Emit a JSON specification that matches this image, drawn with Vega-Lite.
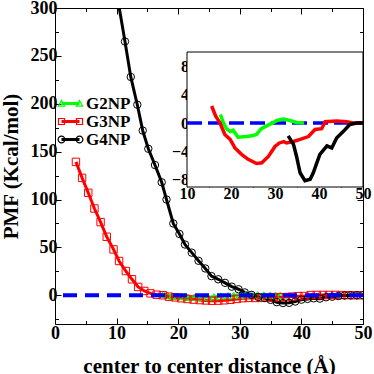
{
  "$schema": "https://vega.github.io/schema/vega-lite/v6.json",
  "width": 308,
  "height": 316,
  "autosize": "none",
  "padding": {"left": 55, "top": 8, "right": 11, "bottom": 50},
  "background": "white",
  "config": {
    "view": {"stroke": "black", "strokeWidth": 1},
    "axis": {
      "labelFont": "Liberation Serif", "labelFontWeight": "bold", "labelColor": "black",
      "titleFont": "Liberation Serif", "titleFontWeight": "bold", "titleColor": "black",
      "tickColor": "black", "domain": false, "grid": false, "labelFlush": false, "labelOverlap": false
    }
  },
  "datasets": {
    "main": [
      {"series": "G2NP", "x": 17.6, "y": 1.2}, {"series": "G2NP", "x": 18.3, "y": 0.0}, {"series": "G2NP", "x": 19.0, "y": -0.8},
      {"series": "G2NP", "x": 19.8, "y": -1.2}, {"series": "G2NP", "x": 20.5, "y": -1.0}, {"series": "G2NP", "x": 21.1, "y": -1.5},
      {"series": "G2NP", "x": 21.6, "y": -2.0}, {"series": "G2NP", "x": 22.6, "y": -2.0}, {"series": "G2NP", "x": 23.6, "y": -1.9},
      {"series": "G2NP", "x": 24.8, "y": -1.8}, {"series": "G2NP", "x": 25.8, "y": -1.6}, {"series": "G2NP", "x": 26.9, "y": -0.8},
      {"series": "G2NP", "x": 28.1, "y": -0.4}, {"series": "G2NP", "x": 29.0, "y": -0.1}, {"series": "G2NP", "x": 30.0, "y": 0.2},
      {"series": "G2NP", "x": 30.9, "y": 0.4}, {"series": "G2NP", "x": 31.9, "y": 0.55}, {"series": "G2NP", "x": 32.9, "y": 0.45},
      {"series": "G2NP", "x": 33.9, "y": 0.3}, {"series": "G2NP", "x": 34.9, "y": 0.1}, {"series": "G2NP", "x": 35.8, "y": 0.05},
      {"series": "G2NP", "x": 36.6, "y": 0.0},
      {"series": "G3NP", "x": 3.4, "y": 139.3}, {"series": "G3NP", "x": 4.4, "y": 122.6}, {"series": "G3NP", "x": 5.4, "y": 107},
      {"series": "G3NP", "x": 6.4, "y": 90.6}, {"series": "G3NP", "x": 7.4, "y": 76.4}, {"series": "G3NP", "x": 8.4, "y": 61.1},
      {"series": "G3NP", "x": 9.5, "y": 47.9}, {"series": "G3NP", "x": 10.4, "y": 35.8}, {"series": "G3NP", "x": 11.5, "y": 25.3},
      {"series": "G3NP", "x": 12.5, "y": 16.7}, {"series": "G3NP", "x": 13.5, "y": 8.7}, {"series": "G3NP", "x": 14.5, "y": 4.5},
      {"series": "G3NP", "x": 15.5, "y": 2.0}, {"series": "G3NP", "x": 16.5, "y": 0.6}, {"series": "G3NP", "x": 17.5, "y": 0},
      {"series": "G3NP", "x": 18.5, "y": -1.5}, {"series": "G3NP", "x": 19.5, "y": -2.2}, {"series": "G3NP", "x": 20.5, "y": -3.1},
      {"series": "G3NP", "x": 21.5, "y": -3.9}, {"series": "G3NP", "x": 22.5, "y": -4.5}, {"series": "G3NP", "x": 23.5, "y": -5.0},
      {"series": "G3NP", "x": 24.5, "y": -5.4}, {"series": "G3NP", "x": 25.5, "y": -5.7}, {"series": "G3NP", "x": 26.5, "y": -5.6},
      {"series": "G3NP", "x": 27.5, "y": -5.2}, {"series": "G3NP", "x": 28.5, "y": -4.7}, {"series": "G3NP", "x": 29.5, "y": -3.8},
      {"series": "G3NP", "x": 30.5, "y": -3.0}, {"series": "G3NP", "x": 31.5, "y": -2.7}, {"series": "G3NP", "x": 32.5, "y": -2.8},
      {"series": "G3NP", "x": 33.5, "y": -2.7}, {"series": "G3NP", "x": 34.5, "y": -2.5}, {"series": "G3NP", "x": 35.5, "y": -2.3},
      {"series": "G3NP", "x": 36.5, "y": -2.1}, {"series": "G3NP", "x": 37.5, "y": -1.9}, {"series": "G3NP", "x": 38.5, "y": -1.4},
      {"series": "G3NP", "x": 39.5, "y": -0.9}, {"series": "G3NP", "x": 40.5, "y": -0.8}, {"series": "G3NP", "x": 41.5, "y": 0.2},
      {"series": "G3NP", "x": 42.5, "y": 0.3}, {"series": "G3NP", "x": 43.5, "y": 0.3}, {"series": "G3NP", "x": 44.5, "y": 0.3},
      {"series": "G3NP", "x": 45.5, "y": 0.3}, {"series": "G3NP", "x": 46.5, "y": 0.2}, {"series": "G3NP", "x": 47.5, "y": 0.1},
      {"series": "G3NP", "x": 48.5, "y": 0}, {"series": "G3NP", "x": 49.5, "y": 0},
      {"series": "G4NP", "x": 10.3, "y": 305}, {"series": "G4NP", "x": 11.36, "y": 265}, {"series": "G4NP", "x": 12.3, "y": 228},
      {"series": "G4NP", "x": 13.36, "y": 199}, {"series": "G4NP", "x": 14.24, "y": 172}, {"series": "G4NP", "x": 15.15, "y": 153},
      {"series": "G4NP", "x": 16.23, "y": 136}, {"series": "G4NP", "x": 17.32, "y": 118}, {"series": "G4NP", "x": 18.1, "y": 100},
      {"series": "G4NP", "x": 19.2, "y": 75}, {"series": "G4NP", "x": 20.2, "y": 64}, {"series": "G4NP", "x": 21.1, "y": 53},
      {"series": "G4NP", "x": 22.2, "y": 44.5}, {"series": "G4NP", "x": 23.3, "y": 36}, {"series": "G4NP", "x": 24.4, "y": 28},
      {"series": "G4NP", "x": 25.4, "y": 20}, {"series": "G4NP", "x": 26.5, "y": 16.7}, {"series": "G4NP", "x": 27.6, "y": 13},
      {"series": "G4NP", "x": 28.7, "y": 9}, {"series": "G4NP", "x": 29.8, "y": 6.3}, {"series": "G4NP", "x": 30.8, "y": 3},
      {"series": "G4NP", "x": 31.9, "y": 0.5}, {"series": "G4NP", "x": 33.0, "y": -1.8}, {"series": "G4NP", "x": 34.0, "y": -2.8},
      {"series": "G4NP", "x": 35.0, "y": -4.8}, {"series": "G4NP", "x": 36.0, "y": -7.2}, {"series": "G4NP", "x": 37.0, "y": -8.1},
      {"series": "G4NP", "x": 38.0, "y": -7.9}, {"series": "G4NP", "x": 39.0, "y": -6.5}, {"series": "G4NP", "x": 40.0, "y": -4.6},
      {"series": "G4NP", "x": 41.0, "y": -3.8}, {"series": "G4NP", "x": 42.0, "y": -3.2}, {"series": "G4NP", "x": 43.0, "y": -3.5},
      {"series": "G4NP", "x": 44.0, "y": -2.1}, {"series": "G4NP", "x": 45.0, "y": -1.5}, {"series": "G4NP", "x": 46.0, "y": -0.8},
      {"series": "G4NP", "x": 47.0, "y": -0.2}, {"series": "G4NP", "x": 48.0, "y": 0}, {"series": "G4NP", "x": 49.0, "y": 0},
      {"series": "G4NP", "x": 50.0, "y": 0}
    ],
    "inset": [
      {"series": "G2NP", "x": 17.6, "y": 1.2}, {"series": "G2NP", "x": 18.3, "y": 0.0}, {"series": "G2NP", "x": 19.0, "y": -0.8},
      {"series": "G2NP", "x": 19.8, "y": -1.2}, {"series": "G2NP", "x": 20.5, "y": -1.0}, {"series": "G2NP", "x": 21.6, "y": -2.0},
      {"series": "G2NP", "x": 23.6, "y": -1.9}, {"series": "G2NP", "x": 24.8, "y": -1.8}, {"series": "G2NP", "x": 25.8, "y": -1.6},
      {"series": "G2NP", "x": 26.9, "y": -0.8}, {"series": "G2NP", "x": 28.1, "y": -0.4}, {"series": "G2NP", "x": 30.0, "y": 0.2},
      {"series": "G2NP", "x": 30.4, "y": 0.36}, {"series": "G2NP", "x": 31.9, "y": 0.55}, {"series": "G2NP", "x": 33.4, "y": 0.36},
      {"series": "G2NP", "x": 34.9, "y": 0.09}, {"series": "G2NP", "x": 36.6, "y": 0.0},
      {"series": "G3NP", "x": 15.6, "y": 2.4}, {"series": "G3NP", "x": 16.5, "y": 1.0}, {"series": "G3NP", "x": 17.5, "y": 0},
      {"series": "G3NP", "x": 18.6, "y": -1.6}, {"series": "G3NP", "x": 19.8, "y": -2.3}, {"series": "G3NP", "x": 20.9, "y": -3.5},
      {"series": "G3NP", "x": 22.4, "y": -4.4}, {"series": "G3NP", "x": 23.9, "y": -5.1}, {"series": "G3NP", "x": 25.8, "y": -5.7},
      {"series": "G3NP", "x": 27.0, "y": -5.6}, {"series": "G3NP", "x": 28.5, "y": -4.7}, {"series": "G3NP", "x": 30.0, "y": -3.3},
      {"series": "G3NP", "x": 31.0, "y": -2.8}, {"series": "G3NP", "x": 32.0, "y": -2.6}, {"series": "G3NP", "x": 32.6, "y": -2.8},
      {"series": "G3NP", "x": 34.2, "y": -2.6}, {"series": "G3NP", "x": 35.7, "y": -2.3}, {"series": "G3NP", "x": 37.6, "y": -1.9},
      {"series": "G3NP", "x": 39.1, "y": -0.9}, {"series": "G3NP", "x": 40.6, "y": -0.8}, {"series": "G3NP", "x": 41.4, "y": 0.2},
      {"series": "G3NP", "x": 44.0, "y": 0.3}, {"series": "G3NP", "x": 46.3, "y": 0.2}, {"series": "G3NP", "x": 47.8, "y": 0},
      {"series": "G3NP", "x": 50.0, "y": 0},
      {"series": "G4NP", "x": 33.0, "y": -1.8}, {"series": "G4NP", "x": 34.2, "y": -3.0}, {"series": "G4NP", "x": 34.9, "y": -4.7},
      {"series": "G4NP", "x": 35.7, "y": -7.0}, {"series": "G4NP", "x": 36.8, "y": -8.1}, {"series": "G4NP", "x": 38.0, "y": -7.9},
      {"series": "G4NP", "x": 38.7, "y": -7.0}, {"series": "G4NP", "x": 39.5, "y": -5.6}, {"series": "G4NP", "x": 40.2, "y": -4.4},
      {"series": "G4NP", "x": 41.8, "y": -3.2}, {"series": "G4NP", "x": 42.9, "y": -3.5}, {"series": "G4NP", "x": 44.0, "y": -2.1},
      {"series": "G4NP", "x": 45.5, "y": -1.2}, {"series": "G4NP", "x": 47.0, "y": -0.2}, {"series": "G4NP", "x": 48.6, "y": 0},
      {"series": "G4NP", "x": 50.0, "y": 0}
    ]
  },
  "layer": [
    {
      "layer": [
        {
          "data": {"name": "main"},
          "mark": {"type": "line", "strokeWidth": 3, "clip": true},
          "encoding": {
            "x": {"field": "x", "type": "quantitative",
              "scale": {"domain": [0, 50], "nice": false, "zero": false},
              "axis": {"orient": "bottom", "values": [0, 5, 10, 15, 20, 25, 30, 35, 40, 45, 50],
                "labelExpr": "datum.value % 10 === 0 ? datum.label : ''",
                "tickSize": {"condition": {"test": "datum.value % 10 !== 0", "value": -3.5}, "value": -6},
                "labelFontSize": 18, "labelPadding": 6,
                "title": "center to center distance (Å)", "titleFontSize": 21, "titlePadding": 11}},
            "y": {"field": "y", "type": "quantitative",
              "scale": {"domain": [-30, 300], "nice": false, "zero": false},
              "axis": {"orient": "left", "values": [-25, 0, 25, 50, 75, 100, 125, 150, 175, 200, 225, 250, 275, 300],
                "labelExpr": "datum.value % 50 === 0 ? datum.label : ''",
                "tickSize": {"condition": {"test": "datum.value % 50 !== 0", "value": -3.5}, "value": -6},
                "labelFontSize": 18, "labelPadding": 4,
                "title": "PMF (Kcal/mol)", "titleFontSize": 21, "titlePadding": 9}},
            "color": {"field": "series", "type": "nominal", "legend": null,
              "scale": {"domain": ["G2NP", "G3NP", "G4NP"], "range": ["#00ff00", "#ff0000", "#000000"]}}
          }
        },
        {
          "data": {"name": "main"},
          "mark": {"type": "point", "filled": false, "strokeWidth": 1, "size": 55, "opacity": 1, "clip": true},
          "encoding": {
            "x": {"field": "x", "type": "quantitative",
              "axis": {"orient": "top", "values": [0, 5, 10, 15, 20, 25, 30, 35, 40, 45, 50], "labels": false, "title": null,
                "tickSize": {"condition": {"test": "datum.value % 10 !== 0", "value": -3.5}, "value": -6}}},
            "y": {"field": "y", "type": "quantitative",
              "axis": {"orient": "right", "values": [-25, 0, 25, 50, 75, 100, 125, 150, 175, 200, 225, 250, 275, 300], "labels": false, "title": null,
                "tickSize": {"condition": {"test": "datum.value % 50 !== 0", "value": -3.5}, "value": -6}}},
            "color": {"field": "series", "type": "nominal", "legend": null,
              "scale": {"domain": ["G2NP", "G3NP", "G4NP"], "range": ["#00ff00", "#ff0000", "#000000"]}},
            "shape": {"field": "series", "type": "nominal", "legend": null,
              "scale": {"domain": ["G2NP", "G3NP", "G4NP"], "range": ["triangle-up", "square", "circle"]}}
          }
        },
        {
          "data": {"name": "main"},
          "mark": {"type": "point", "filled": true, "opacity": 0, "size": 144},
          "encoding": {
            "x": {"field": "x", "type": "quantitative", "axis": null},
            "y": {"field": "y", "type": "quantitative", "axis": null},
            "shape": {"field": "series", "type": "nominal",
              "scale": {"domain": ["G2NP", "G3NP", "G4NP"], "range": [
                "M-1.5,-0.25H1.5V0.25H-1.5Z M-2.2,0.55L-1.5,-0.7L-0.8,0.55Z M-1.864,0.35L-1.136,0.35L-1.5,-0.3Z M0.8,0.55L1.5,-0.7L2.2,0.55Z M1.136,0.35L1.864,0.35L1.5,-0.3Z",
                "M-1.5,-0.25H1.5V0.25H-1.5Z M-2.1,-0.6H-0.9V0.6H-2.1Z M-1.9,-0.4V0.4H-1.1V-0.4Z M0.9,-0.6H2.1V0.6H0.9Z M1.1,-0.4V0.4H1.9V-0.4Z",
                "M-1.5,-0.25H1.5V0.25H-1.5Z M-2.17,0A0.67,0.67 0 1,1 -0.83,0A0.67,0.67 0 1,1 -2.17,0Z M-1.97,0A0.47,0.47 0 1,0 -1.03,0A0.47,0.47 0 1,0 -1.97,0Z M0.83,0A0.67,0.67 0 1,1 2.17,0A0.67,0.67 0 1,1 0.83,0Z M1.03,0A0.47,0.47 0 1,0 1.97,0A0.47,0.47 0 1,0 1.03,0Z"
              ]},
              "legend": {"orient": "none", "legendX": 7, "legendY": 87, "title": null, "padding": 0, "offset": 0,
                "labelFont": "Liberation Serif", "labelFontWeight": "bold", "labelFontSize": 17, "labelColor": "black",
                "symbolSize": 144, "symbolOpacity": 1, "symbolFillOpacity": 1, "symbolStrokeWidth": 0, "labelOffset": 7, "rowPadding": 0}},
            "color": {"field": "series", "type": "nominal",
              "scale": {"domain": ["G2NP", "G3NP", "G4NP"], "range": ["#00ff00", "#ff0000", "#000000"]},
              "legend": {"orient": "none", "legendX": 7, "legendY": 87, "title": null, "padding": 0, "offset": 0,
                "labelFont": "Liberation Serif", "labelFontWeight": "bold", "labelFontSize": 17, "labelColor": "black",
                "symbolSize": 144, "symbolOpacity": 1, "symbolFillOpacity": 1, "symbolStrokeWidth": 0, "labelOffset": 7, "rowPadding": 0}}
          }
        },
        {
          "data": {"values": [{}]},
          "mark": {"type": "rule", "color": "#0000ff", "strokeWidth": 4, "strokeDash": [14, 8]},
          "encoding": {"y": {"datum": 0, "type": "quantitative", "axis": null}}
        }
      ],
      "resolve": {"axis": {"x": "independent", "y": "independent"}, "scale": {"shape": "independent", "color": "independent"}}
    },
    {
      "layer": [
        {
          "data": {"values": [{}]},
          "mark": {"type": "rect", "fill": "white", "stroke": "black", "strokeWidth": 1},
          "encoding": {
            "x": {"datum": 10, "type": "quantitative",
              "scale": {"domain": [10, 50], "range": [132, 308], "nice": false, "zero": false},
              "axis": {"orient": "bottom", "offset": -137, "values": [10, 15, 20, 25, 30, 35, 40, 45, 50],
                "labelExpr": "datum.value % 10 === 0 ? datum.label : ''",
                "tickSize": {"condition": {"test": "datum.value % 10 !== 0", "value": -2.5}, "value": -4.5},
                "labelFontSize": 16, "labelPadding": 3, "title": null}},
            "x2": {"datum": 50},
            "y": {"datum": -9, "type": "quantitative",
              "scale": {"domain": [-9, 10], "range": [179, 44], "nice": false, "zero": false},
              "axis": {"orient": "left", "offset": -132, "values": [-8, -6, -4, -2, 0, 2, 4, 6, 8],
                "labelExpr": "datum.value % 4 === 0 ? datum.label : ''",
                "tickSize": {"condition": {"test": "datum.value % 4 !== 0", "value": -2.5}, "value": -4.5},
                "labelFontSize": 16, "labelPadding": 3, "title": null}},
            "y2": {"datum": 10}
          }
        },
        {
          "data": {"values": [{}]},
          "mark": {"type": "rule", "color": "#0000ff", "strokeWidth": 3.5, "strokeDash": [15, 6]},
          "encoding": {
            "x": {"datum": 10, "type": "quantitative",
              "axis": {"orient": "top", "offset": -44, "values": [10, 15, 20, 25, 30, 35, 40, 45, 50], "labels": false, "title": null,
                "tickSize": {"condition": {"test": "datum.value % 10 !== 0", "value": -2.5}, "value": -4.5}}},
            "x2": {"datum": 50},
            "y": {"datum": 0, "type": "quantitative",
              "axis": {"orient": "right", "offset": 0, "values": [-8, -6, -4, -2, 0, 2, 4, 6, 8], "labels": false, "title": null,
                "tickSize": {"condition": {"test": "datum.value % 4 !== 0", "value": -2.5}, "value": -4.5}}}
          }
        },
        {
          "data": {"name": "inset"},
          "mark": {"type": "line", "strokeWidth": 3.5},
          "encoding": {
            "x": {"field": "x", "type": "quantitative", "axis": null},
            "y": {"field": "y", "type": "quantitative", "axis": null},
            "color": {"field": "series", "type": "nominal", "legend": null,
              "scale": {"domain": ["G2NP", "G3NP", "G4NP"], "range": ["#00ff00", "#ff0000", "#000000"]}}
          }
        }
      ],
      "resolve": {"axis": {"x": "independent", "y": "independent"}}
    }
  ],
  "resolve": {"scale": {"x": "independent", "y": "independent", "color": "independent", "shape": "independent"}}
}
